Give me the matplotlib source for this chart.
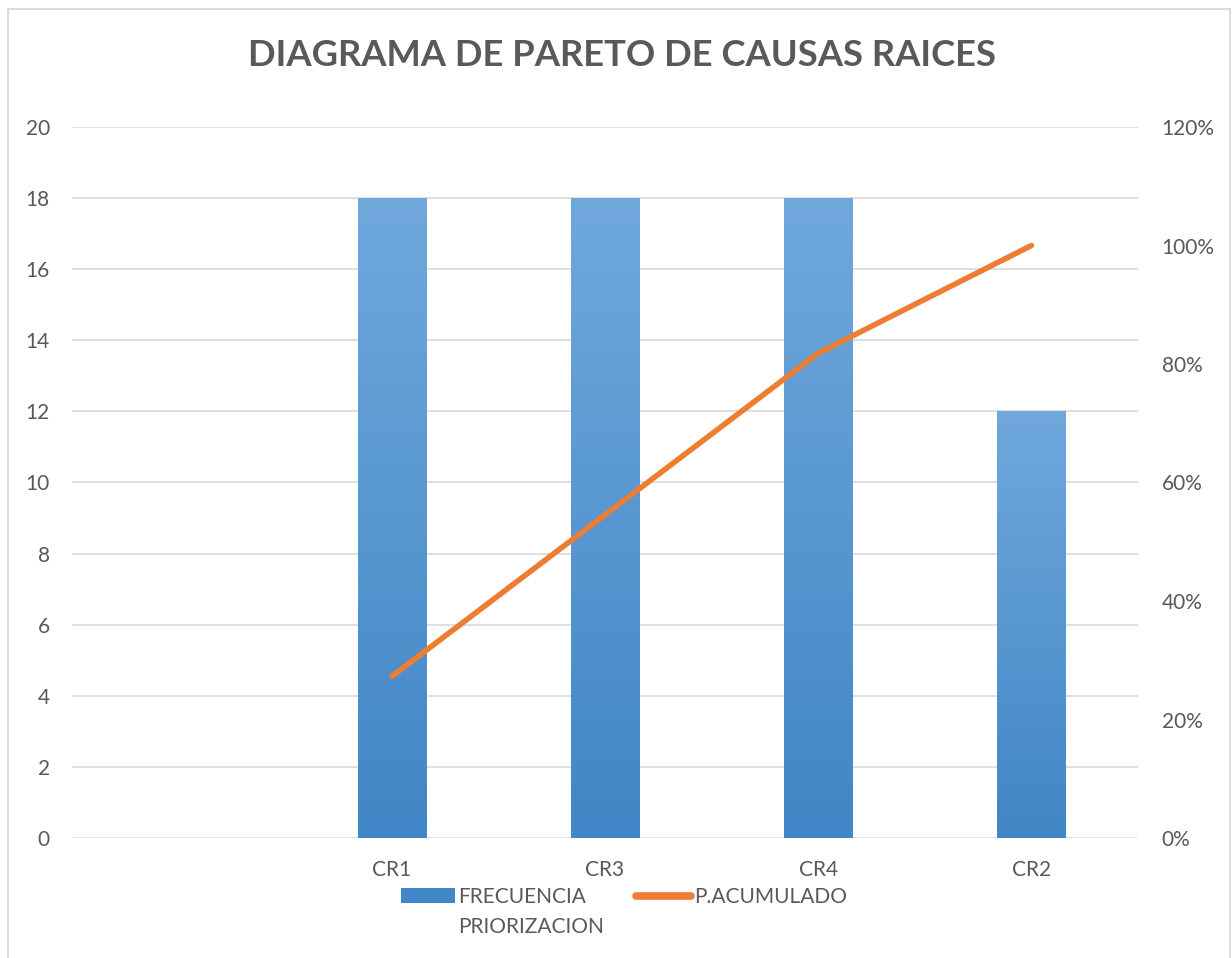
import matplotlib
matplotlib.use("Agg")
import matplotlib.pyplot as plt
import numpy as np
from matplotlib.patches import Rectangle
from matplotlib.lines import Line2D

plt.rcParams['font.family'] = ['Lato', 'DejaVu Sans']

categories = ["", "CR1", "CR3", "CR4", "CR2"]
frecuencia = [0, 18, 18, 18, 12]
acumulado = [None, 0.2727, 0.5455, 0.8182, 1.0]

title = "DIAGRAMA DE PARETO DE CAUSAS RAICES"
bar_label_1 = "FRECUENCIA"
bar_label_2 = "PRIORIZACION"
line_label = "P.ACUMULADO"

text_color = "#595959"
grid_color = "#d9d9d9"
bar_top = np.array([0x70, 0xa8, 0xdc]) / 255
bar_bot = np.array([0x41, 0x86, 0xc6]) / 255
line_color = "#ED7D31"

W, H = 1232, 958
fig = plt.figure(figsize=(W / 100, H / 100), dpi=100)
fig.patches.append(Rectangle((7.5 / W, -10 / H), 1222 / W, (H - 8.5 + 10) / H,
                             transform=fig.transFigure, fill=False, edgecolor="#d9d9d9",
                             linewidth=1.3))
ax = fig.add_axes([72 / W, 120 / H, 1066 / W, 711 / H])
x = np.arange(len(categories))
bars = ax.bar(x, frecuencia, width=0.32, color=bar_bot, zorder=2)

# gradient fill
grad = np.linspace(0, 1, 256)[:, None]
img = bar_top[None, None, :] * (1 - grad[:, :, None]) + bar_bot[None, None, :] * grad[:, :, None]
for b in bars:
    h = b.get_height()
    if h <= 0:
        continue
    x0 = b.get_x()
    im = ax.imshow(img, extent=[x0, x0 + b.get_width(), 0, h], aspect='auto', zorder=3,
                   origin='upper')
    im.set_clip_path(b)

ax.set_xlim(-0.5, len(categories) - 0.5)
ax.set_ylim(0, 20)
ax.set_yticks(np.arange(0, 21, 2))
ax.grid(axis='y', color=grid_color, linewidth=1.2, zorder=0)
ax.set_axisbelow(True)
for s in ax.spines.values():
    s.set_visible(False)
ax.set_xticks(x)
ax.set_xticklabels(categories)
ax.tick_params(axis='both', length=0, colors=text_color, labelsize=15)
ax.tick_params(axis='y', pad=16)
ax.tick_params(axis='x', pad=16)

ax2 = ax.twinx()
lx = [xi for xi, v in zip(x, acumulado) if v is not None]
ly = [v for v in acumulado if v is not None]
ln, = ax2.plot(lx, ly, color=line_color, linewidth=4.0, solid_capstyle='round', zorder=5)
ax2.set_ylim(0, 1.2)
ax2.set_yticks(np.arange(0, 1.21, 0.2))
ax2.set_yticklabels([f"{int(round(v*100))}%" for v in np.arange(0, 1.21, 0.2)])
ax2.tick_params(axis='y', length=0, colors=text_color, labelsize=15, pad=17)
for s in ax2.spines.values():
    s.set_visible(False)

fig.text(0.505, 1 - 55 / H, title, ha='center', va='center', fontsize=26.2, fontweight='bold',
         color=text_color)

line_handle = Line2D([], [], color=line_color, linewidth=5.5, solid_capstyle='round')
leg = fig.legend([bars, line_handle], [bar_label_1, line_label], loc='center',
                 bbox_to_anchor=(624 / W, 1 - 897 / H), ncol=2, frameon=False, fontsize=15,
                 labelcolor=text_color, handlelength=2.6, handleheight=0.7,
                 handletextpad=0.15, columnspacing=2.4)

fig.canvas.draw()
t0 = leg.get_texts()[0]
bb = t0.get_window_extent()
fig.text(bb.x0 / W, (bb.y0 - 30) / H, bar_label_2, ha='left', va='bottom', fontsize=15,
         color=text_color)

fig.savefig("out.png", dpi=100)
